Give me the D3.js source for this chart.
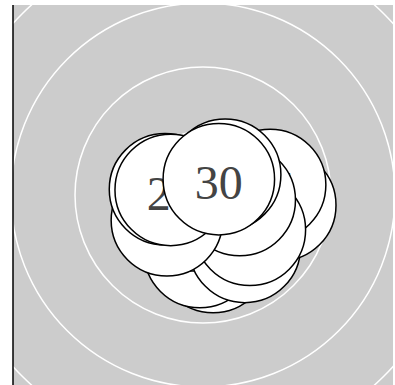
<!DOCTYPE html>
<html><head><meta charset="utf-8">
<script src="https://cdn.jsdelivr.net/npm/d3@7"></script>
<style>body{margin:0;background:#fff}svg{display:block}</style>
</head><body>
<script>
// data (positions in chart units around the centre, back to front)
const labels  = [12, 14, 17, 11, 15, 19, 16, 21, 18, 13, 26, 30];
const xValues = [0.16, -0.05, 0.66, 1.22, 1.06, 0.74, 0.58, 0.35, -0.57, -0.60, -0.51, 0.25];
const yValues = [-0.98, -0.90, -0.82, -0.16, 0.16, -0.55, -0.08, 0.32, -0.40, 0.09, 0.08, 0.25];
const sizes   = [0.88, 0.88, 0.88, 0.88, 0.88, 0.88, 0.88, 0.88, 0.88, 0.88, 0.88, 0.88];
const ringValues = [1, 2, 3, 4, 5];

const W = 395, H = 385;
const svg = d3.select("body").append("svg").attr("width", W).attr("height", H);
const x = d3.scaleLinear().domain([-3, 3]).range([13, 393]);
const y = d3.scaleLinear().domain([-3, 3]).range([385, 5]);
const unit = x(1) - x(0);
const ringR = d3.scaleLinear().domain([0, 4]).range([0, 256]);

svg.append("rect").attr("x", x(-3)).attr("y", y(3)).attr("width", x(3) - x(-3)).attr("height", y(-3) - y(3)).attr("fill", "#cccccc");

svg.append("clipPath").attr("id", "c").append("rect")
  .attr("x", x(-3)).attr("y", y(3)).attr("width", x(3) - x(-3)).attr("height", y(-3) - y(3));

svg.append("g").attr("clip-path", "url(#c)").selectAll("circle").data(ringValues).join("circle")
  .attr("cx", x(0)).attr("cy", y(0)).attr("r", d => ringR(d))
  .attr("fill", "none").attr("stroke", "#fff").attr("stroke-width", 1.5);

svg.append("line").attr("x1", x(-3)).attr("x2", x(-3)).attr("y1", y(3)).attr("y2", y(-3))
  .attr("stroke", "#000").attr("stroke-width", 1.5);

const nodes = labels.map((l, i) => ({label: l, x: xValues[i], y: yValues[i], s: sizes[i]}));
const g = svg.append("g").selectAll("g").data(nodes).join("g")
  .attr("transform", d => `translate(${x(d.x)},${y(d.y)})`);
g.append("circle").attr("r", d => d.s * unit).attr("fill", "#fff").attr("stroke", "#000").attr("stroke-width", 1.5);
g.append("text").text(d => d.label).attr("text-anchor", "middle").attr("dy", "0.42em")
  .style("font-family", "'Liberation Serif', 'Times New Roman', serif").attr("font-size", 48).attr("fill", "#444");
</script>
</body></html>
